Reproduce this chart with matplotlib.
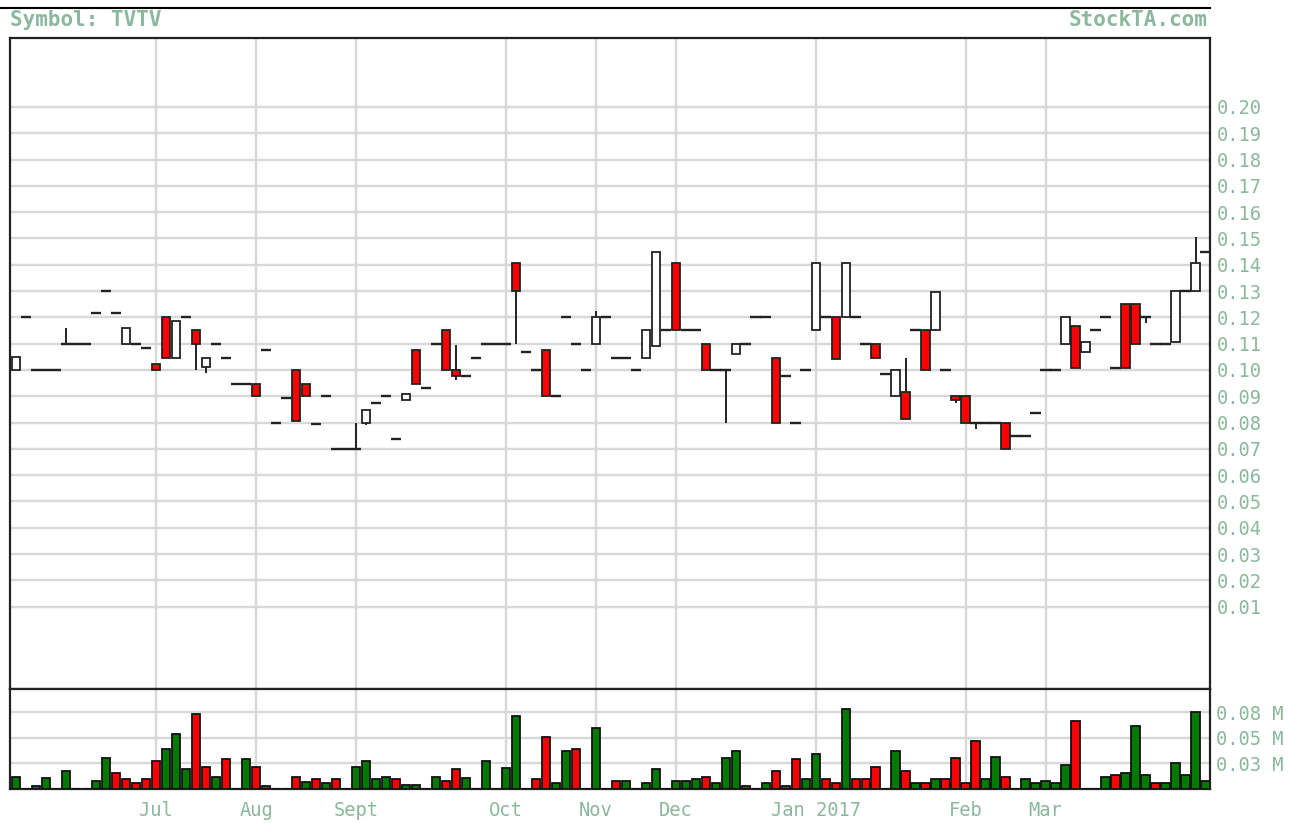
import numpy as np
import matplotlib.pyplot as plt
from matplotlib.lines import Line2D

# month labels and the bar index where each month starts
months = ['Jul', 'Aug', 'Sept', 'Oct', 'Nov', 'Dec', 'Jan 2017', 'Feb', 'Mar']
month_pos = [14, 24, 34, 49, 58, 66, 80, 95, 103]

# daily OHLC (120 bars)
opn = [.100, .120, .100, .100, .100, .110, .110, .110, .1217, .130,
       .1217, .110, .110, .1084, .1023, .120, .1045, .120, .1153, .101,
       .1097, .1046, .0946, .0946, .0946, .1076, .080, .0892, .100, .0946,
       .0794, .090, .070, .070, .070, .080, .0876, .090, .0739, .0885,
       .1076, .093, .110, .1153, .100, .0977, .1046, .110, .110, .110,
       .1405, .1068, .100, .1076, .090, .120, .110, .100, .110, .120,
       .1046, .1046, .100, .1045, .109, .1153, .1405, .1153, .1153, .110,
       .100, .100, .106, .110, .120, .120, .1045, .0977, .080, .100,
       .1153, .120, .120, .120, .120, .110, .110, .0983, .090, .0915,
       .1153, .1153, .1153, .100, .090, .090, .080, .080, .080, .080,
       .0748, .0748, .0838, .100, .100, .110, .1166, .1068, .1153, .120,
       .1006, .1251, .125, .120, .110, .110, .1105, .130, .130, .145]
high = [.105, .120, .100, .100, .100, .116, .110, .110, .1217, .130,
        .1217, .116, .110, .1084, .1023, .120, .1185, .120, .1153, .1047,
        .1097, .1046, .0946, .0946, .0946, .1076, .080, .0892, .100, .0946,
        .0794, .090, .070, .070, .080, .0847, .0876, .090, .0739, .091,
        .1076, .093, .110, .1153, .1096, .0977, .1046, .110, .110, .110,
        .1405, .1068, .100, .1076, .090, .120, .110, .100, .1223, .120,
        .1046, .1046, .100, .1153, .145, .1153, .1405, .1153, .1153, .110,
        .100, .100, .110, .110, .120, .120, .1045, .0977, .080, .100,
        .1405, .120, .120, .1405, .120, .110, .110, .0983, .100, .1047,
        .1153, .1153, .1297, .100, .090, .090, .080, .080, .080, .080,
        .0748, .0748, .0838, .100, .100, .120, .1166, .1105, .1153, .120,
        .1006, .1251, .125, .120, .110, .110, .130, .130, .1507, .145]
low = [.100, .120, .100, .100, .100, .110, .110, .110, .1217, .130,
       .1217, .110, .110, .1084, .100, .1045, .1045, .120, .100, .099,
       .1097, .1046, .0946, .0946, .090, .1076, .080, .0892, .0805, .090,
       .0794, .090, .070, .070, .070, .079, .0876, .090, .0739, .0885,
       .0945, .093, .110, .100, .096, .0977, .1046, .110, .110, .110,
       .110, .1068, .100, .090, .090, .120, .110, .100, .110, .120,
       .1046, .1046, .100, .1045, .109, .1153, .1153, .1153, .1153, .100,
       .100, .080, .106, .110, .120, .120, .080, .0977, .080, .100,
       .1153, .120, .104, .120, .120, .110, .1045, .0983, .090, .0815,
       .1153, .100, .1153, .100, .0875, .080, .0775, .080, .080, .070,
       .0748, .0748, .0838, .100, .100, .110, .1006, .1068, .1153, .120,
       .1006, .1006, .110, .118, .110, .110, .1105, .130, .130, .145]
cls = [.105, .120, .100, .100, .100, .110, .110, .110, .1217, .130,
       .1217, .116, .110, .1084, .100, .1045, .1185, .120, .110, .1047,
       .1097, .1046, .0946, .0946, .090, .1076, .080, .0892, .0805, .090,
       .0794, .090, .070, .070, .070, .0847, .0876, .090, .0739, .091,
       .0945, .093, .110, .100, .0977, .0977, .1046, .110, .110, .110,
       .130, .1068, .100, .090, .090, .120, .110, .100, .120, .120,
       .1046, .1046, .100, .1153, .145, .1153, .1153, .1153, .1153, .100,
       .100, .100, .110, .110, .120, .120, .080, .0977, .080, .100,
       .1405, .120, .104, .1405, .120, .110, .1045, .0983, .100, .0815,
       .1153, .100, .1297, .100, .0885, .080, .080, .080, .080, .070,
       .0748, .0748, .0838, .100, .100, .120, .1006, .1105, .1153, .120,
       .1006, .1006, .110, .120, .110, .110, .130, .130, .1405, .145]

# volume (shares) and direction (1 = green, 0 = red)
vol = [12100, 0, 3300, 10500, 0, 18000, 0, 0, 8200, 30100,
       16000, 9800, 5600, 9800, 27800, 39600, 53700, 19700, 73400, 21300,
       11500, 29500, 0, 29500, 21300, 3300, 0, 0, 11500, 7200,
       9800, 5600, 9800, 0, 21300, 27500, 9500, 12100, 9800, 3900,
       3900, 0, 12100, 7900, 19700, 10500, 0, 27800, 0, 20300,
       71100, 0, 9800, 51400, 5600, 37700, 39600, 0, 59600, 0,
       7900, 7900, 0, 5600, 20000, 0, 8200, 8200, 9800, 12100,
       5600, 30100, 37700, 3300, 0, 5600, 18000, 3300, 29500, 9800,
       34100, 9800, 5600, 78600, 9500, 9500, 21900, 0, 37700, 18000,
       5600, 5600, 9800, 9800, 30100, 5600, 47500, 9800, 31800, 11500,
       0, 9800, 5600, 8200, 5600, 23600, 66800, 0, 0, 12100,
       13800, 16000, 61300, 13800, 5600, 5600, 25900, 13800, 75000, 8200]
vol_up = [1, 0, 0, 1, 0, 1, 0, 0, 1, 1,
          0, 0, 0, 0, 0, 1, 1, 1, 0, 0,
          1, 0, 0, 1, 0, 1, 0, 0, 0, 1,
          0, 1, 0, 0, 1, 1, 1, 1, 0, 1,
          1, 0, 1, 0, 0, 1, 0, 1, 0, 1,
          1, 0, 0, 0, 1, 1, 0, 0, 1, 0,
          0, 1, 0, 1, 1, 0, 1, 1, 1, 0,
          1, 1, 1, 1, 0, 1, 0, 1, 0, 1,
          1, 0, 0, 1, 0, 0, 0, 0, 1, 0,
          1, 0, 1, 0, 0, 0, 0, 1, 1, 0,
          0, 1, 1, 1, 1, 1, 0, 0, 0, 1,
          0, 1, 1, 1, 0, 1, 1, 1, 1, 1]

txt = '#8ab89c'
gridc = '#d8d8d8'
edge = '#222222'
mono = 'DejaVu Sans Mono'

W, H = 1294, 823
def box(l, t, r, b):
    return [l / W, 1 - b / H, (r - l) / W, (b - t) / H]

fig = plt.figure(figsize=(W / 100, H / 100), dpi=100)
ax = fig.add_axes(box(10, 38, 1209.5, 689))
axv = fig.add_axes(box(10, 689, 1209.5, 789), sharex=ax)

x = np.arange(len(cls))
o = np.array(opn)
c = np.array(cls)
hi = np.array(high)
lo = np.array(low)
flat = np.isclose(o, c)
body = ~flat
up = c > o

# wicks, flat ticks and bodies
ax.vlines(x, lo, hi, color=edge, lw=1.4, zorder=2)
ax.hlines(c[flat], x[flat] - 0.53, x[flat] + 0.53, color=edge, lw=1.7,
          capstyle='butt', zorder=3)
ax.bar(x[body], np.abs(c - o)[body], bottom=np.minimum(o, c)[body], width=0.84,
       color=np.where(up, 'white', '#ff0000')[body], edgecolor=edge, lw=1.3, zorder=3)

ax.set_xlim(-0.62, 119.4)
ax.set_ylim(-0.0213, 0.2262)
ticks = np.round(np.arange(0.01, 0.2001, 0.01), 2)
ax.set_yticks(ticks)
ax.set_yticklabels(['%.2f' % t for t in ticks])
ax.set_xticks(month_pos)
ax.yaxis.tick_right()
ax.tick_params(axis='y', length=0, pad=5, labelsize=13.5, labelcolor=txt,
               labelfontfamily=mono)
ax.tick_params(axis='x', length=0, labelbottom=False)
ax.grid(True, color=gridc, lw=1.7)
ax.set_axisbelow(True)

vcol = np.where(np.array(vol_up) == 1, '#007a00', '#ff0000')
axv.bar(x, vol, width=0.84, color=vcol, edgecolor='#111111', lw=1.3, zorder=3)
axv.set_ylim(0, 98000)
axv.set_yticks([25000, 50000, 75000])
axv.set_yticklabels(['0.03 M', '0.05 M', '0.08 M'])
axv.yaxis.tick_right()
axv.set_xticks(month_pos)
axv.set_xticklabels(months)
axv.tick_params(axis='y', length=0, pad=5, labelsize=13.5, labelcolor=txt,
                labelfontfamily=mono)
axv.tick_params(axis='x', length=0, pad=9, labelsize=13.5, labelcolor=txt,
                labelfontfamily=mono)
axv.grid(True, color=gridc, lw=1.7)
axv.set_axisbelow(True)

for a in (ax, axv):
    for s in a.spines.values():
        s.set_color(edge)
        s.set_linewidth(1.6)

fig.add_artist(Line2D([0, 1210 / W], [1 - 8 / H] * 2, color='black', lw=1.5))
fig.text(10 / W, 1 - 20 / H, 'Symbol: TVTV', ha='left', va='center',
         fontsize=15, color=txt, family=mono, fontweight='bold')
fig.text(1207 / W, 1 - 20 / H, 'StockTA.com', ha='right', va='center',
         fontsize=15, color=txt, family=mono, fontweight='bold')

fig.savefig('out.png', dpi=100)
